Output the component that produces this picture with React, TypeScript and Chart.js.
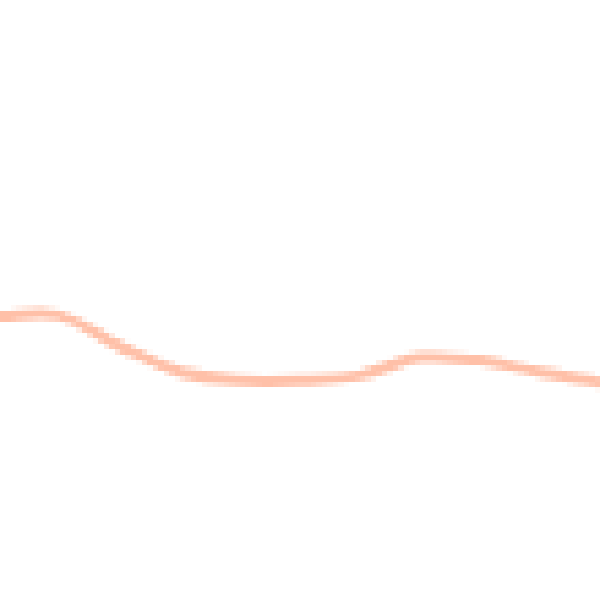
import { useEffect, useRef } from "react";
import { Chart, registerables } from "chart.js";

Chart.register(...registerables);

const labels = ["1", "2", "3", "4", "5", "6", "7", "8", "9", "10", "11"];
const values = [47.3, 47.4, 42.3, 38.0, 36.6, 36.6, 37.4, 40.4, 39.9, 37.9, 36.2];

export default function App() {
  const chartRef = useRef<HTMLCanvasElement>(null);

  useEffect(() => {
    if (!chartRef.current) return;
    const ctx = chartRef.current.getContext("2d");
    if (!ctx) return;

    const chart = new Chart(ctx, {
      type: "line",
      data: {
        labels,
        datasets: [{
          data: values,
          borderColor: "#ffc0a8",
          borderWidth: 2,
          pointRadius: 0,
          tension: 0.35,
          fill: false
        }]
      },
      options: {
        responsive: false,
        animation: false,
        devicePixelRatio: 1,
        layout: { padding: 0 },
        scales: {
          x: { display: false, offset: false },
          y: { display: false, min: 0, max: 100 }
        },
        plugins: {
          legend: { display: false },
          tooltip: { enabled: false }
        }
      }
    });

    return () => chart.destroy();
  }, []);

  return (
    <div style={{ position: "absolute", left: 0, top: 0, width: 600, height: 600, background: "#fff" }}>
      <canvas
        ref={chartRef}
        width={110}
        height={110}
        style={{ width: "600px", height: "600px", imageRendering: "pixelated", display: "block" }}
      ></canvas>
    </div>
  );
}
